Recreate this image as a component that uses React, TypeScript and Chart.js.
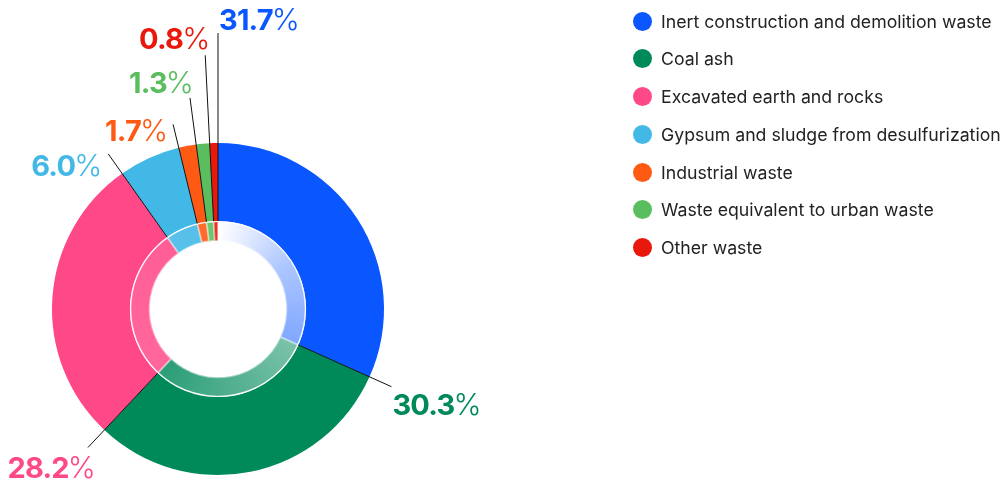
import React, { useEffect, useRef } from "react";
import { Chart, registerables } from "chart.js";

Chart.register(...registerables);

const categories = [
  "Inert construction and demolition waste",
  "Coal ash",
  "Excavated earth and rocks",
  "Gypsum and sludge from desulfurization",
  "Industrial waste",
  "Waste equivalent to urban waste",
  "Other waste",
];
const shares = [31.7, 30.3, 28.2, 6.0, 1.7, 1.3, 0.8];
const shareLabels = ["31.7", "30.3", "28.2", "6.0", "1.7", "1.3", "0.8"];
const colors = ["#0A56FF", "#008A5A", "#FF4888", "#42B8E6", "#FF5A14", "#5BBE5E", "#E8180C"];

// leader line outer radius and label offsets (style/position, per slice)
const leaderRadius = [276, 190, 190, 190, 190, 213, 254];
const labelOffset: [number, number, "left" | "right"][] = [
  [1, -3, "left"],
  [1, 28, "left"],
  [8, 30, "right"],
  [-6, 22, "right"],
  [-5, 17, "right"],
  [4, -5, "right"],
  [5, -6, "right"],
];

function mix(hex: string, w: number) {
  const r = parseInt(hex.slice(1, 3), 16);
  const g = parseInt(hex.slice(3, 5), 16);
  const b = parseInt(hex.slice(5, 7), 16);
  const f = (c: number) => Math.round(c + (255 - c) * w);
  return `rgb(${f(r)},${f(g)},${f(b)})`;
}

const labelPlugin = {
  id: "leaderLabels",
  afterDatasetsDraw(chart: any) {
    const ctx = chart.ctx;
    const outer = chart.getDatasetMeta(0).data;
    const inner = chart.getDatasetMeta(1).data;
    ctx.save();
    // white separator circle between the two rings
    if (inner[0]) {
      ctx.beginPath();
      ctx.strokeStyle = "rgba(255,255,255,0.9)";
      ctx.lineWidth = 1.2;
      ctx.arc(inner[0].x, inner[0].y, inner[0].outerRadius - 0.5, 0, Math.PI * 2);
      ctx.stroke();
    }
    outer.forEach((arc: any, i: number) => {
      const a = arc.startAngle;
      const r0 = inner[i] ? inner[i].outerRadius : arc.innerRadius;
      const r1 = leaderRadius[i];
      const x0 = arc.x + Math.cos(a) * r0;
      const y0 = arc.y + Math.sin(a) * r0;
      const x1 = arc.x + Math.cos(a) * r1;
      const y1 = arc.y + Math.sin(a) * r1;
      ctx.beginPath();
      ctx.strokeStyle = "#111";
      ctx.lineWidth = 1;
      ctx.moveTo(x0, y0);
      ctx.lineTo(x1, y1);
      ctx.stroke();

      const [dx, dy, align] = labelOffset[i];
      const numFont = "700 29px Inter";
      const pctFont = "300 30px Inter";
      (ctx as any).letterSpacing = "-0.8px";
      ctx.font = numFont;
      const wNum = ctx.measureText(shareLabels[i]).width;
      (ctx as any).letterSpacing = "0px";
      ctx.font = pctFont;
      const wPct = ctx.measureText("%").width;
      let tx = x1 + dx;
      if (align === "right") tx -= wNum + wPct - 1;
      const ty = y1 + dy;
      ctx.fillStyle = colors[i];
      ctx.textAlign = "left";
      ctx.textBaseline = "alphabetic";
      (ctx as any).letterSpacing = "-0.8px";
      ctx.font = numFont;
      ctx.fillText(shareLabels[i], tx, ty);
      (ctx as any).letterSpacing = "0px";
      ctx.font = pctFont;
      ctx.fillText("%", tx + wNum - 1, ty);
    });
    ctx.restore();
  },
};

export default function App() {
  const ref = useRef<HTMLCanvasElement | null>(null);
  useEffect(() => {
    if (!ref.current) return;
    const chart = new Chart(ref.current, {
      type: "doughnut",
      data: {
        labels: categories,
        datasets: [
          {
            data: shares,
            backgroundColor: colors,
            borderWidth: 0,
            hoverBorderWidth: 0,
            hoverOffset: 0,
            weight: 78,
          },
          {
            data: shares,
            backgroundColor: (c: any) => {
              const chartRef = c.chart;
              const area = chartRef.chartArea;
              const base = colors[c.dataIndex];
              if (!area) return base;
              const cx = (area.left + area.right) / 2;
              const cy = (area.top + area.bottom) / 2;
              const g = chartRef.ctx.createConicGradient(-Math.PI / 2, cx, cy);
              g.addColorStop(0, mix(base, 1));
              g.addColorStop(0.05, mix(base, 0.9));
              g.addColorStop(0.16, mix(base, 0.66));
              g.addColorStop(0.317, mix(base, 0.48));
              g.addColorStop(0.62, mix(base, 0.17));
              g.addColorStop(1, mix(base, 0.1));
              return g;
            },
            borderColor: "rgba(255,255,255,0.45)",
            borderWidth: 1,
            borderAlign: "inner",
            hoverBorderWidth: 0,
            hoverOffset: 0,
            weight: 20,
          },
        ],
      } as any,
      options: {
        animation: false,
        responsive: false,
        events: [],
        cutout: 68,
        layout: { padding: { left: 52, right: 619, top: 143, bottom: 6 } },
        plugins: {
          legend: { display: false },
          tooltip: { enabled: false },
        },
      } as any,
      plugins: [labelPlugin],
    });
    return () => chart.destroy();
  }, []);

  return (
    <div style={{ position: "fixed", left: 0, top: 0, width: 1003, height: 481, background: "#fff" }}>
      <canvas ref={ref} width={1003} height={481} style={{ position: "absolute", left: 0, top: 0 }} />
      {categories.map((c, i) => (
        <div
          key={c}
          style={{
            position: "absolute",
            left: 633,
            top: 21 + i * 37.75 - 12,
            height: 24,
            display: "flex",
            alignItems: "center",
            whiteSpace: "nowrap",
            fontFamily: "Inter, sans-serif",
            fontSize: 17.7,
            color: "#222",
          }}
        >
          <span
            style={{
              display: "inline-block",
              width: 19,
              height: 19,
              borderRadius: "50%",
              background: colors[i],
              marginRight: 9,
            }}
          />
          <span>{c}</span>
        </div>
      ))}
    </div>
  );
}
